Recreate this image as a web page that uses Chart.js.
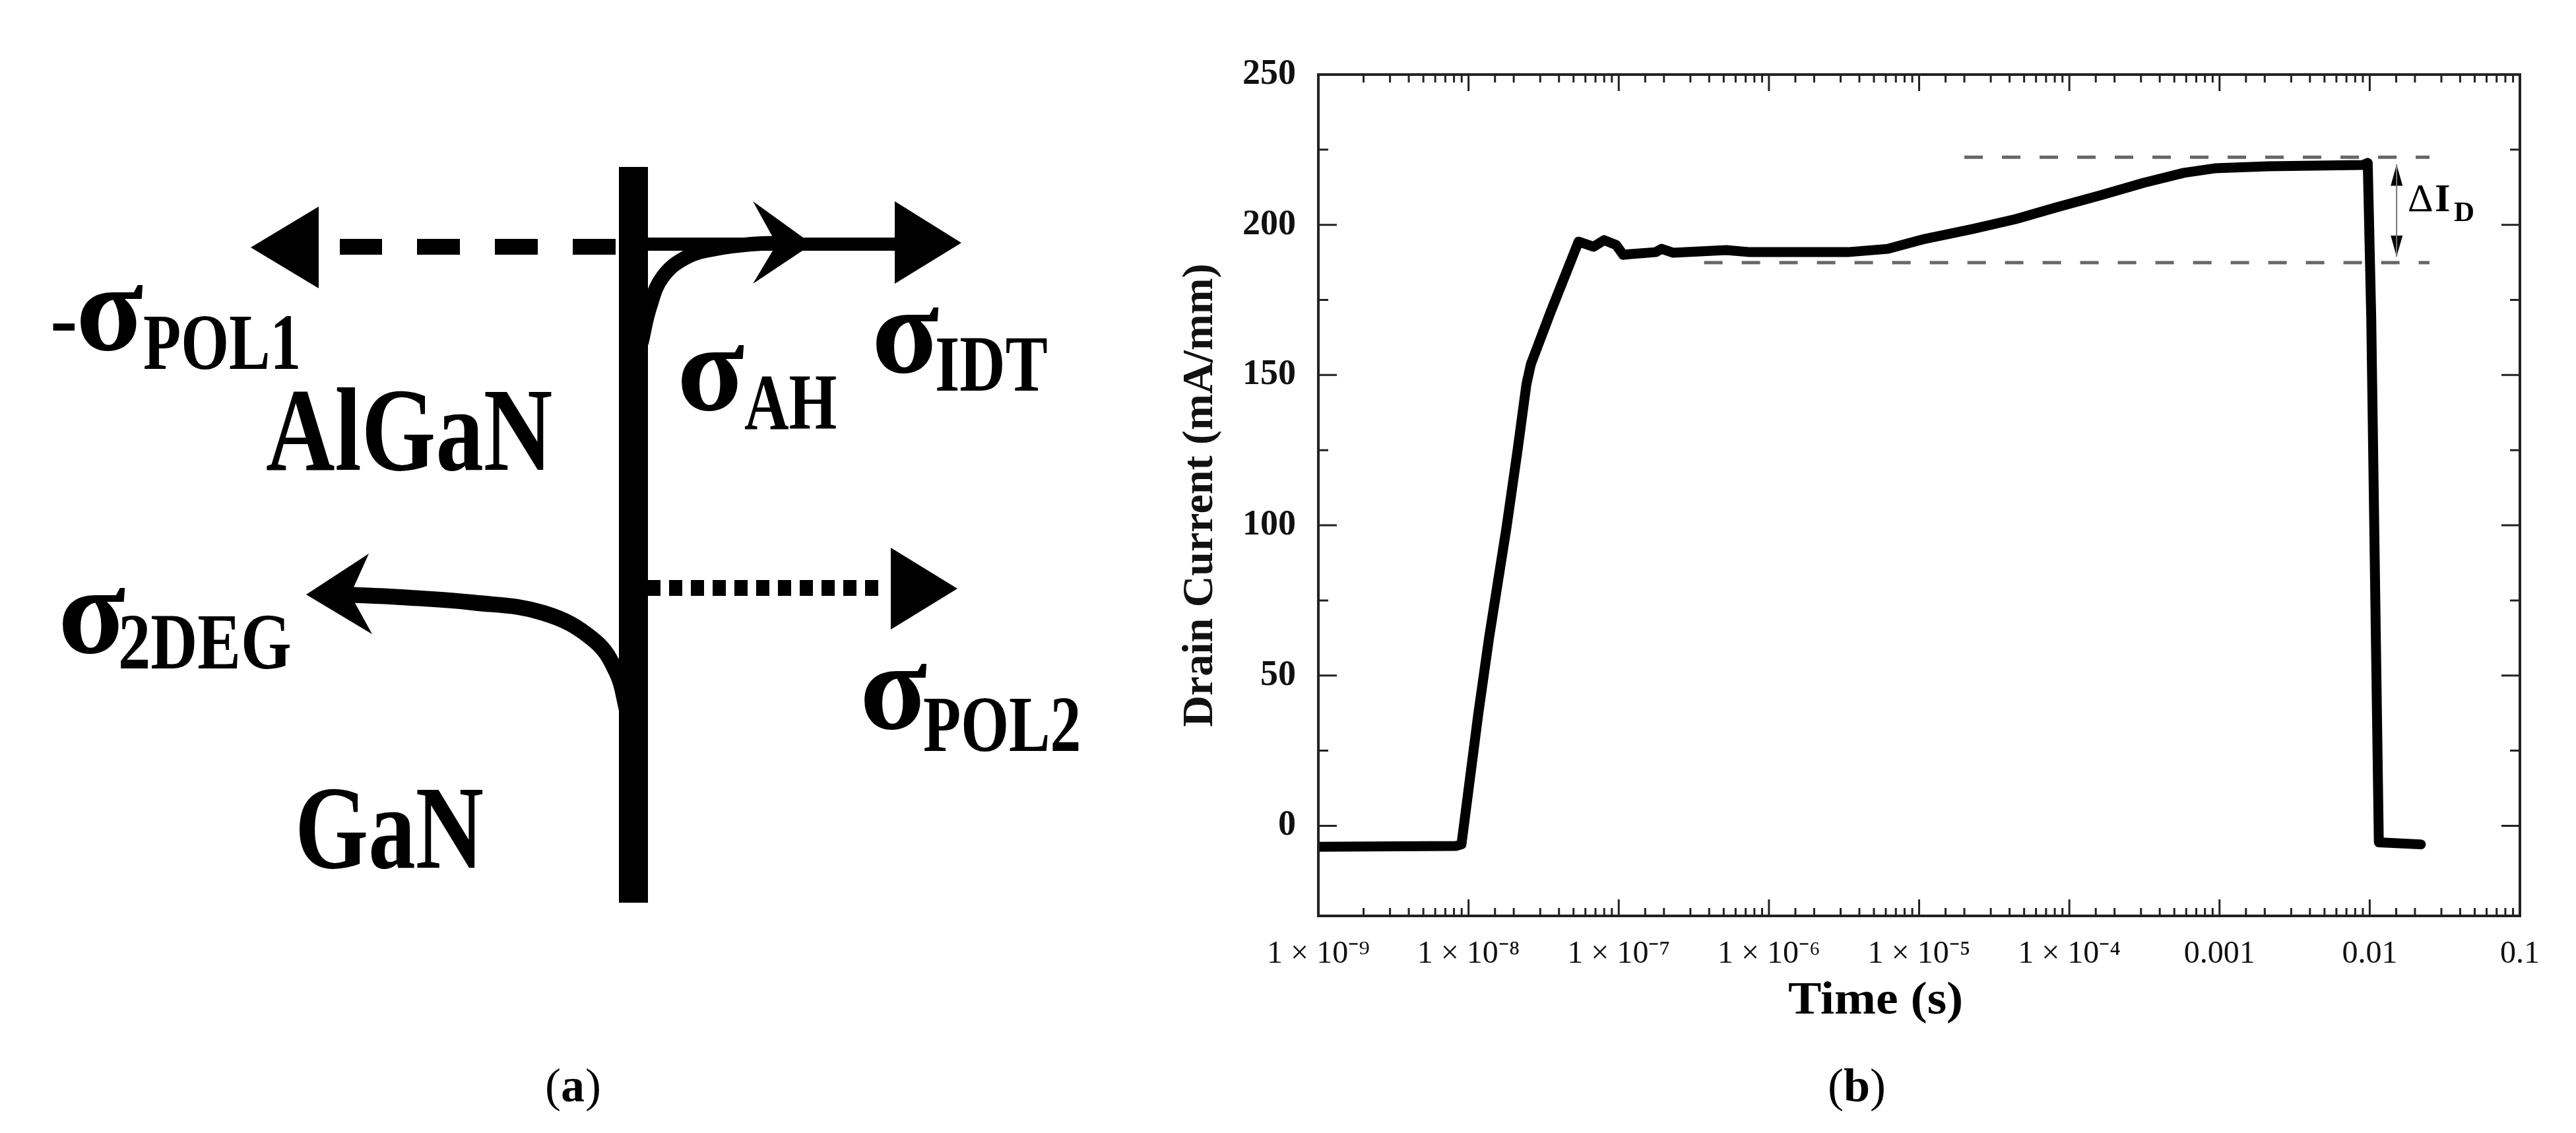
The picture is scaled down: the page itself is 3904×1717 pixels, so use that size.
<!DOCTYPE html>
<html>
<head>
<meta charset="utf-8">
<title>Drain current transient</title>
<script src="https://cdn.jsdelivr.net/npm/chart.js@4"></script>
<style>
  html, body { margin: 0; padding: 0; background: #fff; }
  canvas { position: absolute; top: 0; }
  #diagram { left: 0; }
  #transient { left: 1700px; }
</style>
</head>
<body>
<canvas id="diagram" width="1700" height="1717"></canvas>
<canvas id="transient" width="2204" height="1717"></canvas>
<script>
// panel (b) values
const timeValues = [1e-9, 8.3e-9, 8.97e-9, 1.16e-8, 1.37e-8, 1.79e-8, 2.12e-8, 2.43e-8, 2.6e-8, 3.52e-8, 5.4e-8, 6.8e-8, 8.0e-8,
  9.6e-8, 1.07e-7, 1.17e-7, 1.76e-7, 1.93e-7, 2.31e-7, 5.2e-7, 7.5e-7, 3.34e-6, 6.2e-6, 1.09e-5, 2.26e-5, 4.4e-5, 8.2e-5, 1.61e-4,
  3.13e-4, 5.8e-4, 9.3e-4, 2.1e-3, 9e-3, 9.7e-3, 0.01023, 0.0115, 0.0219];
const currentValues = [-7, -6.7, -6.2, 37.1, 62.6, 99.3, 125, 147, 153.6, 171, 194.4, 192.7, 194.9,
  193.3, 190, 190.2, 190.9, 192, 190.7, 191.6, 190.9, 190.9, 192, 195.3, 198.6, 201.9, 205.8, 209.8,
  214, 217.3, 218.8, 219.5, 219.9, 220.6, 169.6, -5.5, -6.2];
const upperRefTime = [2e-5, 0.025];
const upperRefCurrent = [222.5, 222.5];
const lowerRefTime = [3.7e-7, 0.025];
const lowerRefCurrent = [187.4, 187.4];
const deltaTime = [0.0151, 0.0151];
const deltaCurrent = [220.1, 189.4];
const deltaTopHeadTime = [0.0151, 0.0138, 0.01656];
const deltaTopHeadCurrent = [220.1, 213, 213];
const deltaLowHeadTime = [0.0151, 0.0138, 0.01656];
const deltaLowHeadCurrent = [189.4, 196.4, 196.4];
const xTickLabels = ["1 × 10⁻⁹", "1 × 10⁻⁸", "1 × 10⁻⁷", "1 × 10⁻⁶", "1 × 10⁻⁵", "1 × 10⁻⁴", "0.001", "0.01", "0.1"];
const yTickLabels = [0, 50, 100, 150, 200, 250];

// panel (a) shapes, in diagram units
const barX = [960, 960];
const barY = [253, 1368];
const polOneX = [933, 515];
const polOneY = [374, 374];
const polOneHeadX = [380, 483, 483];
const polOneHeadY = [375, 313, 437];
const idtX = [981, 1367];
const idtY = [370, 370];
const idtHeadX = [1457, 1356, 1356];
const idtHeadY = [368, 305, 430];
const ahX = [972, 985, 1004, 1040, 1085, 1139, 1193];
const ahY = [520, 465, 420, 390, 377, 370, 368];
const ahHeadX = [1231, 1141, 1177, 1141];
const ahHeadY = [370, 305, 370, 430];
const twoDegX = [950, 935, 900, 824, 716, 607, 521];
const twoDegY = [1075, 1020, 970, 929, 913, 905, 901];
const twoDegHeadX = [464, 559, 531, 564];
const twoDegHeadY = [901, 839, 901, 961];
const polTwoX = [981, 1340];
const polTwoY = [891, 891];
const polTwoHeadX = [1451, 1350, 1350];
const polTwoHeadY = [892, 830, 954];

const SERIF = '"Liberation Serif", serif';
const INK = "#000";

const diagramLabels = [
  { text: "-", size: 125, weight: "bold", x: 76, y: 525 },
  { text: "σ", size: 188, weight: "bold", x: 115, y: 530 },
  { text: "POL1", size: 120, weight: "bold", sx: 0.78, x: 217, y: 559 },
  { text: "AlGaN", size: 181, weight: "bold", sx: 0.8, x: 403, y: 712 },
  { text: "σ", size: 188, weight: "bold", x: 1026, y: 621 },
  { text: "AH", size: 120, weight: "bold", sx: 0.78, x: 1128, y: 650 },
  { text: "σ", size: 188, weight: "bold", x: 1321, y: 564 },
  { text: "IDT", size: 120, weight: "bold", sx: 0.8, x: 1417, y: 592 },
  { text: "σ", size: 188, weight: "bold", x: 88, y: 989 },
  { text: "2DEG", size: 120, weight: "bold", sx: 0.82, x: 179, y: 1013 },
  { text: "σ", size: 188, weight: "bold", x: 1303, y: 1104 },
  { text: "POL2", size: 120, weight: "bold", sx: 0.78, x: 1399, y: 1138 },
  { text: "GaN", size: 181, weight: "bold", sx: 0.79, x: 447, y: 1315 },
  { text: "(", size: 72, weight: "normal", x: 826, y: 1669 },
  { text: "a", size: 72, weight: "bold", x: 850, y: 1669 },
  { text: ")", size: 72, weight: "normal", x: 887, y: 1669 }
];
// canvas of panel (b) starts at x = 1700
const transientLabels = [
  { text: "Δ", size: 60, weight: "normal", x: 1949, y: 320 },
  { text: "I", size: 60, weight: "bold", x: 1990, y: 320 },
  { text: "D", size: 43, weight: "bold", x: 2019, y: 335 },
  { text: "Time (s)", size: 70, weight: "bold", sx: 1.08, x: 1010, y: 1536 },
  { text: "(", size: 72, weight: "normal", x: 1070, y: 1669 },
  { text: "b", size: 72, weight: "bold", x: 1094, y: 1669 },
  { text: ")", size: 72, weight: "normal", x: 1134, y: 1669 }
];

function toPoints(xs, ys) {
  return xs.map((x, i) => ({ x: x, y: ys[i] }));
}

function stroke(xs, ys, width, extra) {
  return Object.assign({
    data: toPoints(xs, ys), showLine: true, pointRadius: 0, borderColor: INK, borderWidth: width,
    backgroundColor: INK, fill: false, tension: 0
  }, extra);
}

function polygon(xs, ys) {
  return {
    data: toPoints(xs, ys), showLine: true, pointRadius: 0, borderColor: INK, borderWidth: 0,
    backgroundColor: INK, fill: "shape", tension: 0
  };
}

function drawLabels(ctx, labels) {
  ctx.save();
  ctx.fillStyle = "#000";
  ctx.textAlign = "left";
  ctx.textBaseline = "alphabetic";
  labels.forEach(l => {
    ctx.save();
    ctx.translate(l.x, l.y);
    ctx.scale(l.sx || 1, 1);
    ctx.font = l.weight + " " + l.size + "px " + SERIF;
    ctx.fillText(l.text, 0, 0);
    ctx.restore();
  });
  ctx.restore();
}

function isDecade(v) {
  const e = Math.log10(v);
  return Math.abs(e - Math.round(e)) < 1e-6;
}

// frame on four sides, ticks point inwards
const frameAndTicks = {
  id: "frameAndTicks",
  afterDraw(chart) {
    const ctx = chart.ctx, a = chart.chartArea, sx = chart.scales.x, sy = chart.scales.y;
    ctx.save();
    ctx.strokeStyle = "#222";
    ctx.lineWidth = 3;
    ctx.beginPath();
    sx.ticks.forEach(t => {
      const p = sx.getPixelForValue(t.value);
      const len = isDecade(t.value) ? 25 : 12;
      ctx.moveTo(p, a.bottom); ctx.lineTo(p, a.bottom - len);
      ctx.moveTo(p, a.top); ctx.lineTo(p, a.top + len);
    });
    sy.ticks.forEach(t => {
      if (t.value % 25 !== 0) return;
      const p = sy.getPixelForValue(t.value);
      const len = t.value % 50 === 0 ? 28 : 15;
      ctx.moveTo(a.left, p); ctx.lineTo(a.left + len, p);
      ctx.moveTo(a.right, p); ctx.lineTo(a.right - len, p);
    });
    ctx.stroke();
    ctx.lineWidth = 4;
    ctx.strokeRect(a.left, a.top, a.right - a.left, a.bottom - a.top);
    ctx.restore();
    drawLabels(ctx, transientLabels);
  }
};

new Chart(document.getElementById("diagram"), {
  type: "scatter",
  data: {
    datasets: [
      stroke(barX, barY, 44),
      stroke(polOneX, polOneY, 24, { borderDash: [65, 53] }),
      polygon(polOneHeadX, polOneHeadY),
      stroke(idtX, idtY, 20),
      polygon(idtHeadX, idtHeadY),
      stroke(ahX, ahY, 22, { tension: 0.4 }),
      polygon(ahHeadX, ahHeadY),
      stroke(twoDegX, twoDegY, 24, { tension: 0.4 }),
      polygon(twoDegHeadX, twoDegHeadY),
      stroke(polTwoX, polTwoY, 24, { borderDash: [20, 13] }),
      polygon(polTwoHeadX, polTwoHeadY)
    ]
  },
  options: {
    responsive: false,
    animation: false,
    layout: { padding: 0 },
    plugins: { legend: { display: false }, tooltip: { enabled: false } },
    scales: {
      x: { type: "linear", display: false, min: 0, max: 1700 },
      y: { type: "linear", display: false, min: 0, max: 1717, reverse: true }
    }
  },
  plugins: [{ id: "diagramText", afterDraw(chart) { drawLabels(chart.ctx, diagramLabels); } }]
});

new Chart(document.getElementById("transient"), {
  type: "scatter",
  data: {
    datasets: [
      stroke(upperRefTime, upperRefCurrent, 5, { borderColor: "#666", borderDash: [28, 29] }),
      stroke(lowerRefTime, lowerRefCurrent, 5, { borderColor: "#666", borderDash: [28, 29] }),
      stroke(deltaTime, deltaCurrent, 2, { borderColor: "#777" }),
      polygon(deltaTopHeadTime, deltaTopHeadCurrent),
      polygon(deltaLowHeadTime, deltaLowHeadCurrent),
      stroke(timeValues, currentValues, 15, { borderColor: "#000", borderJoinStyle: "round", borderCapStyle: "round" })
    ]
  },
  options: {
    responsive: false,
    animation: false,
    layout: { padding: { left: 0, top: 113, right: 85, bottom: 0 } },
    plugins: { legend: { display: false }, tooltip: { enabled: false } },
    scales: {
      x: {
        type: "logarithmic",
        min: 1e-9,
        max: 0.1,
        afterFit(scale) { scale.height = 329; },
        grid: { display: false, drawTicks: false },
        border: { display: false },
        ticks: {
          autoSkip: false,
          maxRotation: 0,
          minRotation: 0,
          padding: 30,
          color: "#111",
          font: { family: SERIF, size: 48 },
          callback(value) {
            if (!isDecade(value)) return "";
            return xTickLabels[Math.round(Math.log10(value)) + 9];
          }
        }
      },
      y: {
        type: "linear",
        min: -30,
        max: 250,
        afterFit(scale) { scale.width = 298; },
        grid: { display: false, drawTicks: false },
        border: { display: false },
        title: {
          display: true,
          text: "Drain Current (mA/mm)",
          color: "#111",
          font: { family: SERIF, size: 66, weight: "bold" },
          padding: { top: 80, bottom: 0 }
        },
        ticks: {
          stepSize: 25,
          autoSkip: false,
          padding: 34,
          color: "#111",
          font: { family: SERIF, size: 54, weight: "bold" },
          callback(value) { return yTickLabels.includes(value) ? String(value) : ""; }
        }
      }
    }
  },
  plugins: [frameAndTicks]
});
</script>
</body>
</html>
